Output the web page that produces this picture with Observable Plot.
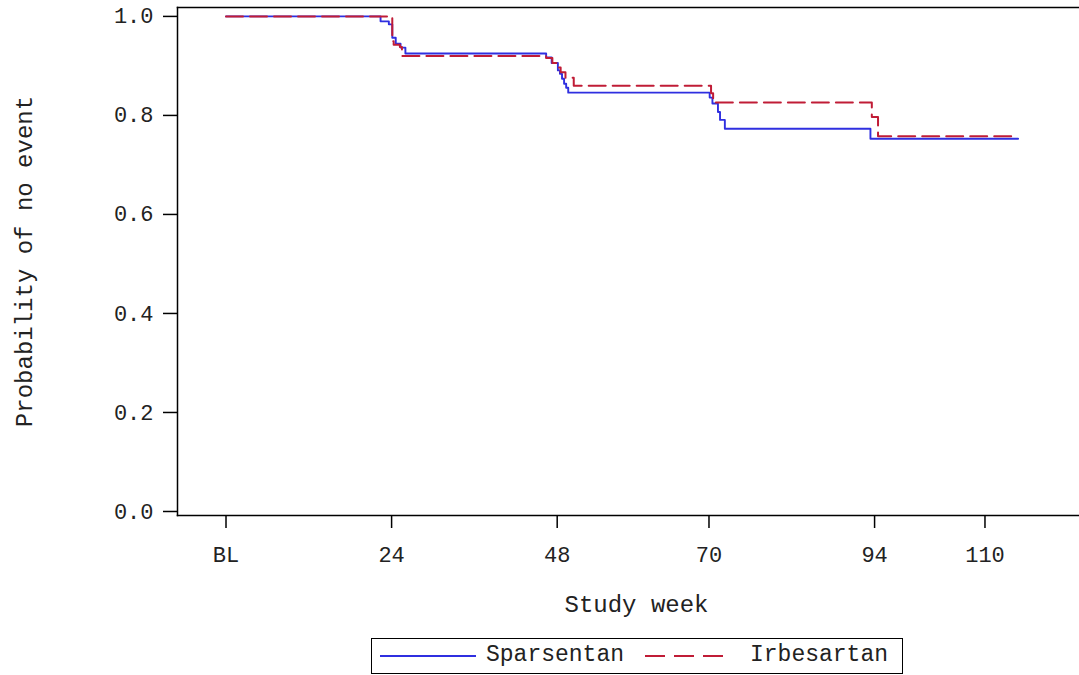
<!DOCTYPE html>
<html>
<head>
<meta charset="utf-8">
<script src="https://cdn.jsdelivr.net/npm/d3@7"></script>
<script src="https://cdn.jsdelivr.net/npm/@observablehq/plot@0.6"></script>
<style>
  html, body { margin: 0; padding: 0; background: #fff; overflow: hidden; }
  #wrap { position: relative; width: 1079px; height: 675px; }
  #legend { position: absolute; left: 371px; top: 638px; width: 532px; height: 36px;
    box-sizing: border-box; border: 1.5px solid #000; font-family: "Liberation Mono", monospace;
    font-size: 23px; color: #222; }
  #legend .item { position: absolute; top: 0; height: 33px; line-height: 33px; white-space: nowrap; }
  #legend svg { position: absolute; top: 0; }
</style>
</head>
<body>
<div id="wrap"><div id="chart"></div><div id="legend"></div></div>
<script>
// ---- data ----
const seriesNames = ["Sparsentan", "Irbesartan"];
const seriesColors = ["#2f2fe0", "#c01c36"];

const weeksSparsentan = [0, 22.4, 23.6, 24.1, 24.6, 25.3, 26.0, 46.4, 47.2, 48.1, 48.4, 48.7, 49.0, 49.3, 49.6, 70.1, 70.5, 71.3, 71.6, 72.3, 93.4, 114.8];
const survSparsentan  = [1.0, 0.99, 0.984, 0.957, 0.945, 0.937, 0.925, 0.917, 0.906, 0.891, 0.884, 0.874, 0.864, 0.856, 0.846, 0.836, 0.824, 0.807, 0.791, 0.773, 0.753, 0.753];

const weeksIrbesartan = [0, 24.1, 24.3, 25.2, 25.5, 46.4, 47.3, 48.1, 48.5, 49.2, 50.4, 70.3, 70.6, 93.6, 94.5, 114.6];
const survIrbesartan  = [1.0, 0.95, 0.943, 0.938, 0.92, 0.916, 0.906, 0.897, 0.887, 0.876, 0.86, 0.845, 0.826, 0.797, 0.758, 0.758];

const xTicks = [0, 24, 48, 70, 94, 110];
const xTickLabels = ["BL", "24", "48", "70", "94", "110"];
const yTicks = [0, 0.2, 0.4, 0.6, 0.8, 1.0];
const xLabel = "Study week";
const yLabel = "Probability of no event";

// ---- tables built from the arrays ----
const spar = weeksSparsentan.map((w, i) => ({week: w, surv: survSparsentan[i]}));
const irb = weeksIrbesartan.map((w, i) => ({week: w, surv: survIrbesartan[i]}));

const chart = Plot.plot({
  width: 1079,
  height: 630,
  marginLeft: 177,
  marginRight: 0,
  marginTop: 7,
  marginBottom: 115,
  x: {domain: [-7.03, 123.7]},
  y: {domain: [-0.0081, 1.018]},
  style: {fontFamily: "'Liberation Mono', monospace", fontSize: "22px", color: "#222", background: "#fff", overflow: "visible"},
  marks: [
    Plot.frame({anchor: "top", stroke: "#000", strokeWidth: 1.5}),
    Plot.frame({anchor: "left", stroke: "#000", strokeWidth: 1.5}),
    Plot.frame({anchor: "bottom", stroke: "#000", strokeWidth: 1.5}),
    Plot.axisX({ticks: xTicks, tickFormat: d => xTickLabels[xTicks.indexOf(d)], tickSize: 13, tickPadding: 18, label: null, strokeWidth: 1.5, stroke: "#000"}),
    Plot.axisY({ticks: yTicks, tickFormat: d3.format(".1f"), tickSize: 14, tickPadding: 10, label: null, strokeWidth: 1.5, stroke: "#000"}),
    Plot.line(spar, {x: "week", y: "surv", curve: "step-after", stroke: seriesColors[0], strokeWidth: 1.9}),
    Plot.line(irb, {x: "week", y: "surv", curve: "step-after", stroke: seriesColors[1], strokeWidth: 2, strokeDasharray: "17,7"}),
    Plot.text([yLabel], {text: d => d, frameAnchor: "left", dx: -153, rotate: -90, fontSize: 24, textAnchor: "middle", lineAnchor: "middle"}),
    Plot.text([xLabel], {text: d => d, frameAnchor: "bottom", dx: 8, dy: 89, fontSize: 24, textAnchor: "middle", lineAnchor: "middle"})
  ]
});
document.getElementById("chart").appendChild(chart);

// ---- legend ----
const legend = d3.select("#legend");
const sw1 = legend.append("svg").attr("width", 100).attr("height", 33).style("left", "8px");
sw1.append("line").attr("x1", 0).attr("x2", 96).attr("y1", 17).attr("y2", 17)
  .attr("stroke", seriesColors[0]).attr("stroke-width", 1.8);
legend.append("div").attr("class", "item").style("left", "114px").text(seriesNames[0]);
const sw2 = legend.append("svg").attr("width", 80).attr("height", 33).style("left", "273px");
sw2.append("line").attr("x1", 0).attr("x2", 78).attr("y1", 17).attr("y2", 17)
  .attr("stroke", seriesColors[1]).attr("stroke-width", 2).attr("stroke-dasharray", "20,9");
legend.append("div").attr("class", "item").style("left", "378px").text(seriesNames[1]);
</script>
</body>
</html>
